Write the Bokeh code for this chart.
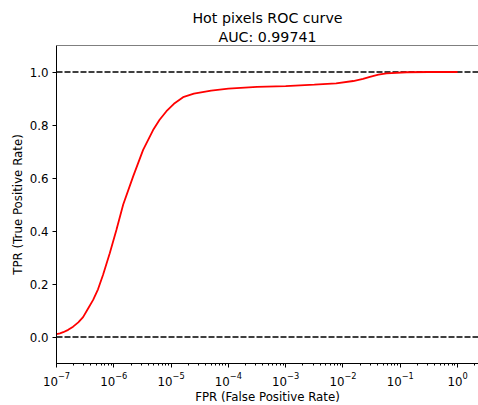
from bokeh.plotting import figure
from bokeh.models import Span, FixedTicker, NumeralTickFormatter, Range1d, LogTicker, Title
from bokeh.embed import file_html
from bokeh.resources import INLINE

# ROC curve data
fpr = [1.0e-7, 1.15e-7, 1.31e-7, 1.6e-7, 1.95e-7, 2.4e-7, 2.91e-7, 3.5e-7, 4.36e-7,
       5.3e-7, 6.5e-7, 8.5e-7, 1.11e-6, 1.46e-6, 2.17e-6, 3.25e-6, 4.85e-6,
       6.3e-6, 8.3e-6, 1.12e-5, 1.62e-5, 2.5e-5, 5.0e-5, 1.0e-4, 3.16e-4, 1.0e-3,
       3.16e-3, 7.6e-3, 1.51e-2, 2.24e-2, 2.95e-2, 4.17e-2, 5.75e-2, 1.29e-1,
       3.16e-1, 1.0]
tpr = [0.011, 0.014, 0.018, 0.027, 0.039, 0.055, 0.075, 0.105, 0.14,
       0.18, 0.235, 0.316, 0.404, 0.50, 0.605, 0.706, 0.781,
       0.82, 0.852, 0.88, 0.905, 0.918, 0.93, 0.937, 0.944, 0.947,
       0.952, 0.957, 0.966, 0.974, 0.982, 0.99, 0.995, 0.999,
       1.0, 1.0]
y_ticks = [0.0, 0.2, 0.4, 0.6, 0.8, 1.0]
ref_levels = [0.0, 1.0]
title_lines = ["Hot pixels ROC curve", "AUC: 0.99741"]

FONT = "DejaVu Sans"

p = figure(frame_width=422, frame_height=318, x_axis_type="log",
           x_range=Range1d(1e-7, 2.32), y_range=Range1d(-0.1, 1.1),
           output_backend="svg", toolbar_location=None,
           min_border_left=56, min_border_right=0, min_border_top=45,
           min_border_bottom=36)

# titles: later-added goes further up
for i, line in enumerate(reversed(title_lines)):
    p.add_layout(Title(text=line, align="center", text_font=FONT,
                       text_font_size="14.2px", text_font_style="normal",
                       text_line_height=0.9,
                       text_color="black", standoff=(0 if i else 2)), "above")

p.grid.visible = False
p.outline_line_color = None
p.background_fill_color = "white"
p.border_fill_color = "white"

for lv in ref_levels:
    p.add_layout(Span(location=lv, dimension="width", line_color="black",
                      line_dash="6 2", line_width=1.5, level="underlay"))
p.add_layout(Span(location=1.1, dimension="width", line_color="black", line_width=1))

p.line(fpr, tpr, line_color="red", line_width=1.8)

for ax in (p.xaxis[0], p.yaxis[0]):
    ax.axis_line_color = "black"
    ax.major_tick_in = 0
    ax.major_tick_out = 4
    ax.minor_tick_in = 0
    ax.minor_tick_out = 2
    ax.major_label_text_font = FONT
    ax.major_label_text_font_size = "11.8px"
    ax.major_label_text_color = "black"
    ax.axis_label_text_font = FONT
    ax.axis_label_text_font_size = "11.8px"
    ax.axis_label_text_font_style = "normal"
    ax.axis_label_text_color = "black"
    ax.major_label_standoff = 4

p.xaxis[0].axis_label = "FPR (False Positive Rate)"
p.yaxis[0].axis_label = "TPR (True Positive Rate)"
p.yaxis[0].ticker = FixedTicker(ticks=y_ticks)
p.yaxis[0].minor_tick_line_color = None
p.yaxis[0].formatter = NumeralTickFormatter(format="0.0")
p.xaxis[0].ticker = LogTicker(desired_num_ticks=8, num_minor_ticks=10)
p.yaxis[0].axis_label_standoff = 2
p.xaxis[0].axis_label_standoff = 1

open("out.html", "w").write(file_html(p, INLINE))
